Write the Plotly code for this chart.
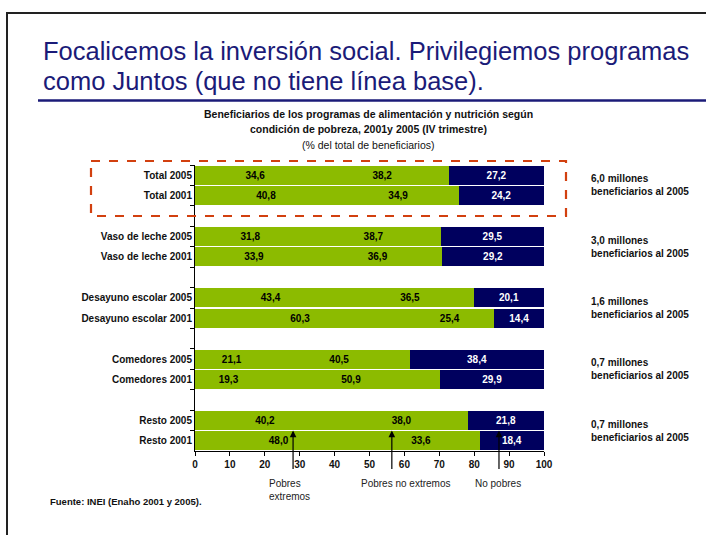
import plotly.graph_objects as go

# Rows, top to bottom; blank strings separate the programme groups
categories = [
    "Total 2005", "Total 2001", " ",
    "Vaso de leche 2005", "Vaso de leche 2001", "  ",
    "Desayuno escolar 2005", "Desayuno escolar 2001", "   ",
    "Comedores 2005", "Comedores 2001", "    ",
    "Resto 2005", "Resto 2001",
]

# Share of beneficiaries (%) by poverty condition
pobres_extremos = [34.6, 40.8, None, 31.8, 33.9, None, 43.4, 60.3, None, 21.1, 19.3, None, 40.2, 48.0]
pobres_no_extremos = [38.2, 34.9, None, 38.7, 36.9, None, 36.5, 25.4, None, 40.5, 50.9, None, 38.0, 33.6]
no_pobres = [27.2, 24.2, None, 29.5, 29.2, None, 20.1, 14.4, None, 38.4, 29.9, None, 21.8, 18.4]

# Total beneficiaries in 2005 per programme group
group_totals = ["6,0", "3,0", "1,6", "0,7", "0,7"]

x_ticks = [0, 10, 20, 30, 40, 50, 60, 70, 80, 90, 100]

GREEN = "#8cbb00"
NAVY = "#00005e"
TITLE_BLUE = "#1b1b78"
FONT = "Liberation Sans, Arial, sans-serif"

W, H = 706, 535
L, R, T, B = 195, 162, 165, 84


def px(xp):
    return (xp - L) / (W - L - R)


def py(yp):
    return (H - B - yp) / (H - T - B)


fig = go.Figure()
for name, vals, col, tcol in [
    ("Pobres extremos", pobres_extremos, GREEN, "black"),
    ("Pobres no extremos", pobres_no_extremos, GREEN, "black"),
    ("No pobres", no_pobres, NAVY, "white"),
]:
    fig.add_trace(go.Bar(
        name=name, y=categories, x=vals, orientation="h",
        marker=dict(color=col, line=dict(width=0)),
        texttemplate="%{x:.1f}", textposition="inside",
        insidetextanchor="middle", textangle=0,
        textfont=dict(family=FONT, size=10, color=tcol, weight="bold"),
        constraintext="none", hoverinfo="skip",
    ))

annotations = []

# Group totals on the right
for i, tot in enumerate(group_totals):
    annotations.append(dict(
        xref="paper", yref="y", x=px(589), y=3 * i + 0.5,
        text=f"{tot} millones<br>beneficiarios al 2005",
        showarrow=False, xanchor="left", yanchor="middle", align="left",
        font=dict(family=FONT, size=10, color="#111", weight="bold"),
    ))

# Arrows pointing into the last bar, with their captions
arrow_x = [28.1, 56.4, 87.1]
for ax_ in arrow_x:
    annotations.append(dict(
        xref="x", yref="y", x=ax_, y=12.5, text="", showarrow=True,
        axref="pixel", ayref="pixel", ax=0, ay=40,
        arrowhead=2, arrowsize=1.1, arrowwidth=1.2, arrowcolor="black",
        standoff=0,
    ))

captions = [(267, "Pobres<br>extremos"), (359, "Pobres no extremos"), (473, "No pobres")]
for xp, txt in captions:
    annotations.append(dict(
        xref="paper", yref="paper", x=px(xp), y=py(476), text=txt,
        showarrow=False, xanchor="left", yanchor="top", align="left",
        font=dict(family=FONT, size=10, color="#222"),
    ))

annotations.append(dict(
    xref="paper", yref="paper", x=px(48), y=py(501),
    text="Fuente: INEI (Enaho 2001 y 2005).", showarrow=False,
    xanchor="left", yanchor="middle",
    font=dict(family=FONT, size=9.5, color="#111", weight="bold"),
))

# Chart heading
for yp, txt, wt in [
    (114, "Beneficiarios de los programas de alimentación y nutrición según", "bold"),
    (129, "condición de pobreza, 2001y 2005 (IV trimestre)", "bold"),
    (145, "(% del total de beneficiarios)", "normal"),
]:
    annotations.append(dict(
        xref="paper", yref="paper", x=px(368), y=py(yp), text=txt,
        showarrow=False, xanchor="center", yanchor="middle",
        font=dict(family=FONT, size=10.5, color="#111", weight=wt),
    ))

# Slide title
for yp, txt in [(51, "Focalicemos la inversión social. Privilegiemos programas"),
                (81, "como Juntos (que no tiene línea base).")]:
    annotations.append(dict(
        xref="paper", yref="paper", x=px(41), y=py(yp), text=txt,
        showarrow=False, xanchor="left", yanchor="middle",
        font=dict(family=FONT, size=25.5, color=TITLE_BLUE),
    ))

shapes = [
    # slide frame
    dict(type="line", xref="paper", yref="paper", x0=px(6), x1=px(706), y0=py(13), y1=py(13),
         line=dict(color="#222", width=2)),
    dict(type="line", xref="paper", yref="paper", x0=px(7), x1=px(7), y0=py(12), y1=py(535),
         line=dict(color="#222", width=2)),
    # title rule
    dict(type="line", xref="paper", yref="paper", x0=px(38), x1=px(706), y0=py(100.5), y1=py(100.5),
         line=dict(color=TITLE_BLUE, width=2.5)),
    # highlight box around totals
    dict(type="rect", xref="paper", yref="paper", x0=px(91), x1=px(566), y0=py(161), y1=py(216),
         line=dict(color="#d2400f", width=2.2, dash="dash")),
]

fig.update_layout(
    width=W, height=H, margin=dict(l=L, r=R, t=T, b=B),
    barmode="stack", bargap=0.07, showlegend=False,
    paper_bgcolor="white", plot_bgcolor="white",
    separators=",.",
    font=dict(family=FONT, color="#111"),
    annotations=annotations, shapes=shapes,
    xaxis=dict(
        range=[0, 100], tickvals=x_ticks, ticks="outside", ticklen=4,
        tickcolor="black", showline=True, linecolor="black", linewidth=1,
        showgrid=False, zeroline=False,
        tickfont=dict(family=FONT, size=10, color="#111", weight="bold"),
        fixedrange=True,
    ),
    yaxis=dict(
        type="category", categoryorder="array", categoryarray=categories,
        autorange="reversed", tickson="boundaries", ticks="outside", ticklen=4,
        tickcolor="black", showline=True, linecolor="black", linewidth=1,
        showgrid=False, zeroline=False,
        tickfont=dict(family=FONT, size=10, color="#111", weight="bold"),
        fixedrange=True,
    ),
)

fig.write_html("out.html")
